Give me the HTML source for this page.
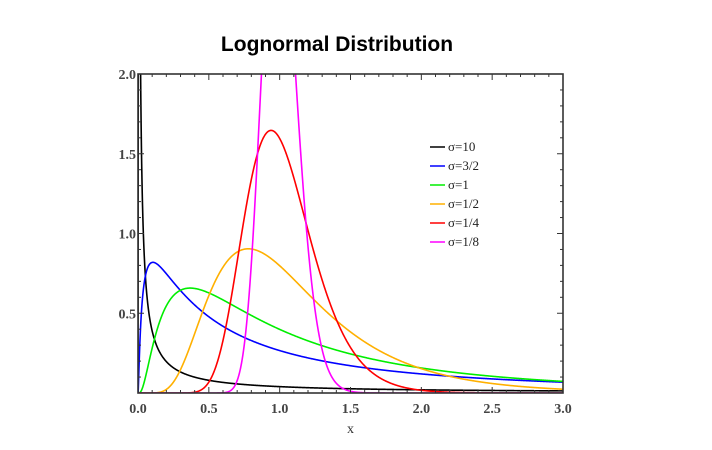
<!DOCTYPE html>
<html><head><meta charset="utf-8"><style>
body{margin:0;background:#fff;}
svg{display:block;}
</style></head><body>
<svg id="chart" width="712" height="450" xmlns="http://www.w3.org/2000/svg">
<text x="337" y="51" text-anchor="middle" font-family="Liberation Sans, sans-serif" font-weight="bold" font-size="21">Lognormal Distribution</text>
<g id="plot"></g>
</svg>
<script>
const sigmas=[10,1.5,1,0.5,0.25,0.125];
const labels=["σ=10","σ=3/2","σ=1","σ=1/2","σ=1/4","σ=1/8"];
const colors=["#000000","#0000ff","#00ee00","#ffb000","#ff0000","#ff00ff"];
const xTicks=[0,0.5,1,1.5,2,2.5,3];
const yTicks=[0.5,1,1.5,2];
const X0=138,X1=563,Y0=393,Y1=74;
const sx=v=>X0+(v/3)*(X1-X0);
const sy=v=>Y0-(v/2)*(Y0-Y1);
const NS="http://www.w3.org/2000/svg";
const svg=document.getElementById('chart');
const g=document.getElementById('plot');
function mk(t,a,p){const e=document.createElementNS(NS,t);for(const k in a)e.setAttribute(k,a[k]);(p||g).appendChild(e);return e;}
const defs=mk('defs',{},svg);
const cp=mk('clipPath',{id:'clip'},defs);
mk('rect',{x:X0,y:Y1,width:X1-X0,height:Y0-Y1},cp);
const cg=mk('g',{'clip-path':'url(#clip)'});
function pdf(x,s){if(x<=0)return 0;const l=Math.log(x);return Math.exp(-l*l/(2*s*s))/(x*s*Math.sqrt(2*Math.PI));}
sigmas.forEach((s,i)=>{
  let d='';
  for(let k=0;k<=1500;k++){const x=3*k/1500;let y=pdf(x,s);if(y>2.2)y=2.2;d+=(k?'L':'M')+sx(x).toFixed(2)+' '+sy(y).toFixed(2);}
  const p=mk('path',{d:d,fill:'none',stroke:colors[i],'stroke-width':1.6},cg);
  
  
  const ly=147+i*19;
  const ll=mk('line',{x1:430,x2:445,y1:ly,y2:ly,stroke:colors[i],'stroke-width':1.5});
  
  
  const lt=mk('text',{x:448,y:ly+4,'font-family':'Liberation Serif, serif','font-size':13,fill:'#222'});
  lt.textContent=labels[i];
  
  
});
const frame=mk('rect',{x:X0,y:Y1,width:X1-X0,height:Y0-Y1,fill:'none',stroke:'#333','stroke-width':1.6});


for(let k=0;k<=30;k++){const x=sx(k/10);const L=k%5==0?6:3;
  mk('line',{x1:x,x2:x,y1:Y0,y2:Y0-L,stroke:'#333'});mk('line',{x1:x,x2:x,y1:Y1,y2:Y1+L,stroke:'#333'});}
for(let k=0;k<=20;k++){const y=sy(k/10);const L=k%5==0?6:3;
  mk('line',{x1:X0,x2:X0+L,y1:y,y2:y,stroke:'#333'});mk('line',{x1:X1,x2:X1-L,y1:y,y2:y,stroke:'#333'});}
xTicks.forEach(v=>{const t=mk('text',{x:sx(v),y:Y0+20,'text-anchor':'middle','font-family':'Liberation Serif, serif','font-size':14,'font-weight':'bold',fill:'#444'});t.textContent=v.toFixed(1);
  });
yTicks.forEach(v=>{const t=mk('text',{x:X0-2,y:sy(v)+5,'text-anchor':'end','font-family':'Liberation Serif, serif','font-size':14,'font-weight':'bold',fill:'#444'});t.textContent=v.toFixed(1);
  });
const xt=mk('text',{x:(X0+X1)/2,y:433,'text-anchor':'middle','font-family':'Liberation Serif, serif','font-size':14,fill:'#333'});xt.textContent='x';

</script>
</body></html>
